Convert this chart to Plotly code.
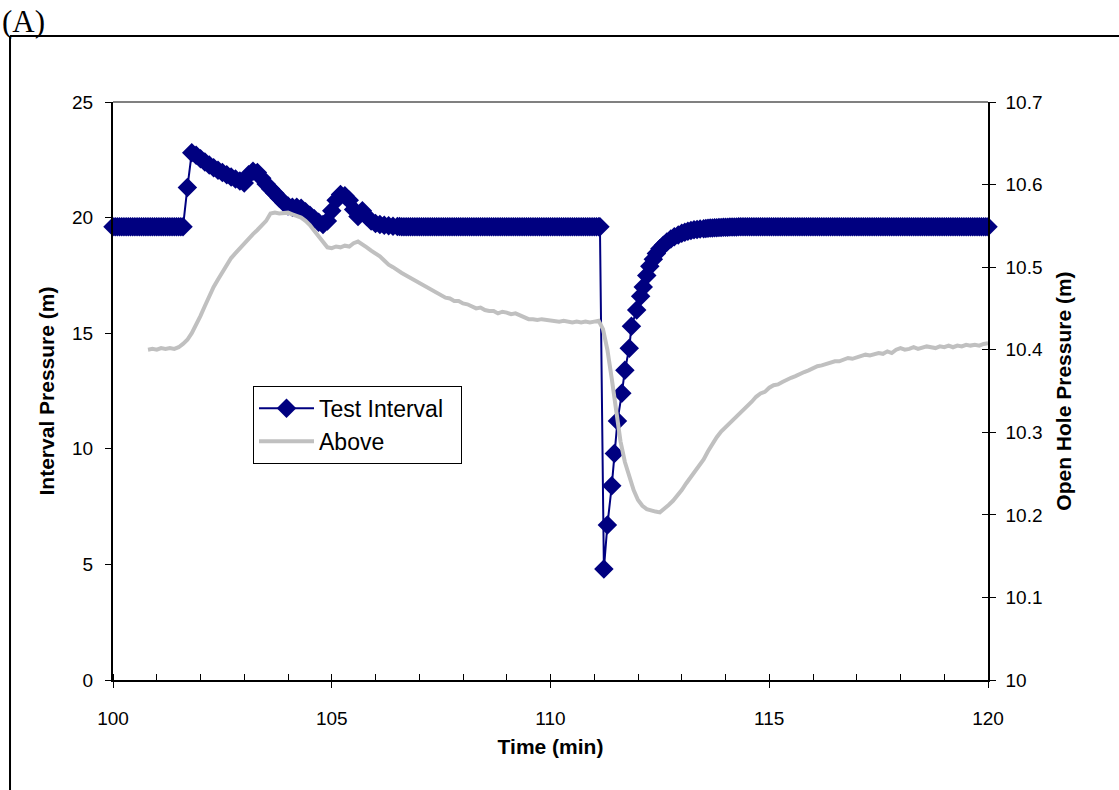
import plotly.graph_objects as go

# ---------------- data ----------------
# Test Interval sample times (min) and pressures (m)
interval_time = [
    100.00, 100.05, 100.10, 100.15, 100.20, 100.25, 100.30, 100.35, 100.40, 100.45,
    100.50, 100.55, 100.60, 100.65, 100.70, 100.75, 100.80, 100.85, 100.90, 100.95,
    101.00, 101.05, 101.10, 101.15, 101.20, 101.25, 101.30, 101.35, 101.40, 101.45,
    101.50, 101.55, 101.60, 101.7, 101.8, 101.9,
    102.0, 102.1, 102.2, 102.3, 102.4, 102.5, 102.6, 102.7, 102.8, 102.9,
    103.0, 103.1, 103.2, 103.3, 103.4, 103.5, 103.6, 103.7, 103.8, 103.9,
    104.0, 104.1, 104.2, 104.3, 104.4, 104.5, 104.6, 104.7, 104.8, 104.9,
    105.0, 105.1, 105.2, 105.3, 105.4, 105.5, 105.6, 105.7, 105.8, 105.9,
    106.0, 106.1, 106.2, 106.3, 106.4, 106.5,
    106.55, 106.60, 106.65, 106.70, 106.75, 106.80, 106.85, 106.90, 106.95,
    107.00, 107.05, 107.10, 107.15, 107.20, 107.25, 107.30, 107.35, 107.40, 107.45,
    107.50, 107.55, 107.60, 107.65, 107.70, 107.75, 107.80, 107.85, 107.90, 107.95,
    108.00, 108.05, 108.10, 108.15, 108.20, 108.25, 108.30, 108.35, 108.40, 108.45,
    108.50, 108.55, 108.60, 108.65, 108.70, 108.75, 108.80, 108.85, 108.90, 108.95,
    109.00, 109.05, 109.10, 109.15, 109.20, 109.25, 109.30, 109.35, 109.40, 109.45,
    109.50, 109.55, 109.60, 109.65, 109.70, 109.75, 109.80, 109.85, 109.90, 109.95,
    110.00, 110.05, 110.10, 110.15, 110.20, 110.25, 110.30, 110.35, 110.40, 110.45,
    110.50, 110.55, 110.60, 110.65, 110.70, 110.75, 110.80, 110.85, 110.90, 110.95,
    111.00, 111.05, 111.10, 111.13,
    111.22, 111.30, 111.40, 111.46, 111.53, 111.63, 111.70, 111.80,
    111.85, 111.97, 112.06, 112.12, 112.20, 112.27, 112.35, 112.42, 112.50, 112.58,
    112.66, 112.75, 112.83, 112.92, 113.00, 113.07, 113.14, 113.21, 113.28, 113.35,
    113.42, 113.50, 113.55, 113.60, 113.65, 113.70, 113.75, 113.80, 113.85, 113.90,
    113.95, 114.00, 114.05, 114.10, 114.15, 114.20, 114.25, 114.30, 114.35, 114.40,
    114.45, 114.50, 114.55, 114.60, 114.65, 114.70, 114.75, 114.80, 114.85, 114.90,
    114.95, 115.00, 115.05, 115.10, 115.15, 115.20, 115.25, 115.30, 115.35, 115.40,
    115.45, 115.50, 115.55, 115.60, 115.65, 115.70, 115.75, 115.80, 115.85, 115.90,
    115.95, 116.00, 116.05, 116.10, 116.15, 116.20, 116.25, 116.30, 116.35, 116.40,
    116.45, 116.50, 116.55, 116.60, 116.65, 116.70, 116.75, 116.80, 116.85, 116.90,
    116.95, 117.00, 117.05, 117.10, 117.15, 117.20, 117.25, 117.30, 117.35, 117.40,
    117.45, 117.50, 117.55, 117.60, 117.65, 117.70, 117.75, 117.80, 117.85, 117.90,
    117.95, 118.00, 118.05, 118.10, 118.15, 118.20, 118.25, 118.30, 118.35, 118.40,
    118.45, 118.50, 118.55, 118.60, 118.65, 118.70, 118.75, 118.80, 118.85, 118.90,
    118.95, 119.00, 119.05, 119.10, 119.15, 119.20, 119.25, 119.30, 119.35, 119.40,
    119.45, 119.50, 119.55, 119.60, 119.65, 119.70, 119.75, 119.80, 119.85, 119.90,
    119.95, 120.00,
]
interval_pressure = [
    19.6, 19.6, 19.6, 19.6, 19.6, 19.6, 19.6, 19.6, 19.6, 19.6,
    19.6, 19.6, 19.6, 19.6, 19.6, 19.6, 19.6, 19.6, 19.6, 19.6,
    19.6, 19.6, 19.6, 19.6, 19.6, 19.6, 19.6, 19.6, 19.6, 19.6,
    19.6, 19.6, 19.6, 21.3, 22.8, 22.7,
    22.55, 22.4, 22.28, 22.16, 22.05, 21.95, 21.85, 21.76, 21.67, 21.58,
    21.5, 21.85, 22.0, 21.95, 21.7, 21.45, 21.25, 21.05, 20.85, 20.65,
    20.5, 20.45, 20.45, 20.4, 20.25, 20.1, 19.95, 19.8, 19.7, 19.85,
    20.3, 20.75, 21.0, 20.95, 20.75, 20.35, 20.05, 20.3, 20.05, 19.85,
    19.75, 19.7, 19.67, 19.65, 19.63, 19.62,
    19.61, 19.6, 19.6, 19.6, 19.6, 19.6, 19.6, 19.6, 19.6,
    19.6, 19.6, 19.6, 19.6, 19.6, 19.6, 19.6, 19.6, 19.6, 19.6,
    19.6, 19.6, 19.6, 19.6, 19.6, 19.6, 19.6, 19.6, 19.6, 19.6,
    19.6, 19.6, 19.6, 19.6, 19.6, 19.6, 19.6, 19.6, 19.6, 19.6,
    19.6, 19.6, 19.6, 19.6, 19.6, 19.6, 19.6, 19.6, 19.6, 19.6,
    19.6, 19.6, 19.6, 19.6, 19.6, 19.6, 19.6, 19.6, 19.6, 19.6,
    19.6, 19.6, 19.6, 19.6, 19.6, 19.6, 19.6, 19.6, 19.6, 19.6,
    19.6, 19.6, 19.6, 19.6, 19.6, 19.6, 19.6, 19.6, 19.6, 19.6,
    19.6, 19.6, 19.6, 19.6, 19.6, 19.6, 19.6, 19.6, 19.6, 19.6,
    19.6, 19.6, 19.6, 19.6,
    4.8, 6.7, 8.4, 9.8, 11.2, 12.4, 13.4, 14.35,
    15.3, 16.0, 16.6, 17.0, 17.5, 17.9, 18.2, 18.45, 18.65, 18.8,
    18.95, 19.07, 19.17, 19.25, 19.32, 19.37, 19.41, 19.44, 19.47, 19.49,
    19.51, 19.52, 19.53, 19.54, 19.55, 19.55, 19.56, 19.56, 19.57, 19.57,
    19.58, 19.58, 19.58, 19.59, 19.59, 19.59, 19.59, 19.6, 19.6, 19.6,
    19.6, 19.6, 19.6, 19.6, 19.6, 19.6, 19.6, 19.6, 19.6, 19.6,
    19.6, 19.6, 19.6, 19.6, 19.6, 19.6, 19.6, 19.6, 19.6, 19.6,
    19.6, 19.6, 19.6, 19.6, 19.6, 19.6, 19.6, 19.6, 19.6, 19.6,
    19.6, 19.6, 19.6, 19.6, 19.6, 19.6, 19.6, 19.6, 19.6, 19.6,
    19.6, 19.6, 19.6, 19.6, 19.6, 19.6, 19.6, 19.6, 19.6, 19.6,
    19.6, 19.6, 19.6, 19.6, 19.6, 19.6, 19.6, 19.6, 19.6, 19.6,
    19.6, 19.6, 19.6, 19.6, 19.6, 19.6, 19.6, 19.6, 19.6, 19.6,
    19.6, 19.6, 19.6, 19.6, 19.6, 19.6, 19.6, 19.6, 19.6, 19.6,
    19.6, 19.6, 19.6, 19.6, 19.6, 19.6, 19.6, 19.6, 19.6, 19.6,
    19.6, 19.6, 19.6, 19.6, 19.6, 19.6, 19.6, 19.6, 19.6, 19.6,
    19.6, 19.6, 19.6, 19.6, 19.6, 19.6, 19.6, 19.6, 19.6, 19.6,
    19.6, 19.6,
]

# "Above" (open hole) sample times (min) and pressures (m)
above_time = [
    100.8, 100.9, 101.0, 101.1, 101.2, 101.3, 101.4, 101.5, 101.6, 101.7,
    101.8, 101.9, 102.0, 102.1, 102.2, 102.3, 102.4, 102.5, 102.6, 102.7,
    102.8, 102.9, 103.0, 103.1, 103.2, 103.3, 103.4, 103.5, 103.6, 103.7,
    103.8, 103.9, 104.0, 104.1, 104.2, 104.3, 104.4, 104.5, 104.6, 104.7,
    104.8, 104.9, 105.0, 105.1, 105.2, 105.3, 105.4, 105.5, 105.6, 105.7,
    105.8, 105.9, 106.0, 106.1, 106.2, 106.3, 106.4, 106.5, 106.6, 106.7,
    106.8, 106.9, 107.0, 107.1, 107.2, 107.3, 107.4, 107.5, 107.6, 107.7,
    107.8, 107.9, 108.0, 108.1, 108.2, 108.3, 108.4, 108.5, 108.6, 108.7,
    108.8, 108.9, 109.0, 109.1, 109.2, 109.3, 109.4, 109.5, 109.6, 109.7,
    109.8, 109.9, 110.0, 110.1, 110.2, 110.3, 110.4, 110.5, 110.6, 110.7,
    110.8, 110.9, 111.0, 111.1, 111.2, 111.3, 111.4, 111.5, 111.6, 111.7,
    111.8, 111.9, 112.0, 112.1, 112.2, 112.3, 112.4, 112.5, 112.6, 112.7,
    112.8, 112.9, 113.0, 113.1, 113.2, 113.3, 113.4, 113.5, 113.6, 113.7,
    113.8, 113.9, 114.0, 114.1, 114.2, 114.3, 114.4, 114.5, 114.6, 114.7,
    114.8, 114.9, 115.0, 115.1, 115.2, 115.3, 115.4, 115.5, 115.6, 115.7,
    115.8, 115.9, 116.0, 116.1, 116.2, 116.3, 116.4, 116.5, 116.6, 116.7,
    116.8, 116.9, 117.0, 117.1, 117.2, 117.3, 117.4, 117.5, 117.6, 117.7,
    117.8, 117.9, 118.0, 118.1, 118.2, 118.3, 118.4, 118.5, 118.6, 118.7,
    118.8, 118.9, 119.0, 119.1, 119.2, 119.3, 119.4, 119.5, 119.6, 119.7,
    119.8, 119.9, 120.0,
]
above_pressure = [
    10.400, 10.401, 10.400, 10.402, 10.401, 10.402, 10.401, 10.403, 10.407, 10.412,
    10.420, 10.430, 10.441, 10.453, 10.465, 10.476, 10.485, 10.494, 10.503, 10.511,
    10.517, 10.523, 10.529, 10.535, 10.540, 10.545, 10.550, 10.556, 10.565, 10.566,
    10.565, 10.566, 10.566, 10.564, 10.562, 10.560, 10.556, 10.551, 10.544, 10.537,
    10.530, 10.524, 10.523, 10.525, 10.524, 10.526, 10.525, 10.529, 10.531, 10.528,
    10.524, 10.520, 10.517, 10.513, 10.508, 10.503, 10.500, 10.496, 10.493, 10.490,
    10.487, 10.483, 10.480, 10.478, 10.474, 10.472, 10.468, 10.466, 10.463, 10.462,
    10.459, 10.459, 10.456, 10.455, 10.452, 10.450, 10.451, 10.448, 10.447, 10.447,
    10.444, 10.446, 10.445, 10.443, 10.444, 10.442, 10.439, 10.437, 10.437, 10.436,
    10.437, 10.436, 10.435, 10.435, 10.434, 10.435, 10.434, 10.433, 10.434, 10.433,
    10.434, 10.433, 10.434, 10.435, 10.425, 10.400, 10.365, 10.323, 10.289, 10.264,
    10.245, 10.230, 10.218, 10.211, 10.207, 10.205, 10.204, 10.203, 10.207, 10.212,
    10.217, 10.223, 10.230, 10.238, 10.245, 10.252, 10.260, 10.267, 10.277, 10.286,
    10.294, 10.301, 10.306, 10.311, 10.316, 10.321, 10.327, 10.332, 10.337, 10.343,
    10.347, 10.349, 10.354, 10.357, 10.358, 10.361, 10.364, 10.366, 10.368, 10.371,
    10.373, 10.375, 10.378, 10.380, 10.381, 10.383, 10.385, 10.386, 10.386, 10.388,
    10.390, 10.389, 10.391, 10.392, 10.394, 10.393, 10.395, 10.396, 10.395, 10.398,
    10.396, 10.400, 10.402, 10.400, 10.401, 10.403, 10.401, 10.402, 10.404, 10.403,
    10.402, 10.404, 10.403, 10.405, 10.403, 10.405, 10.404, 10.406, 10.405, 10.406,
    10.405, 10.407, 10.408,
]

x_ticks = [100, 105, 110, 115, 120]
left_ticks = [0, 5, 10, 15, 20, 25]
right_ticks = [10, 10.1, 10.2, 10.3, 10.4, 10.5, 10.6, 10.7]

FONT = "Liberation Sans, Arial, sans-serif"
NAVY = "#000080"
GRAY = "#C0C0C0"

# ---------------- figure ----------------
fig = go.Figure()
fig.add_trace(go.Scatter(
    x=interval_time, y=interval_pressure, name="Test Interval&nbsp;&nbsp;",
    mode="lines+markers",
    line=dict(color=NAVY, width=2),
    marker=dict(symbol="diamond", size=15, color=NAVY, line=dict(width=0)),
    cliponaxis=False, yaxis="y",
))
fig.add_trace(go.Scatter(
    x=above_time, y=above_pressure, name="Above",
    mode="lines",
    line=dict(color=GRAY, width=4),
    yaxis="y2",
))
# empty helper trace so the companion tick axes are drawn
fig.add_trace(go.Scatter(
    x=[None], y=[None], xaxis="x2", yaxis="y3",
    mode="lines", showlegend=False, hoverinfo="skip",
))

axis_font = dict(family=FONT, size=19, color="black")
title_font = dict(family=FONT, size=21, color="black", weight="bold")

fig.update_layout(
    width=1119, height=790,
    margin=dict(l=113, r=131, t=102, b=110, autoexpand=False),
    paper_bgcolor="white", plot_bgcolor="white",
    font=dict(family=FONT, color="black"),
    showlegend=True,
    legend=dict(
        x=0.16, y=0.509, xanchor="left", yanchor="top",
        bgcolor="white", bordercolor="black", borderwidth=1,
        font=dict(family=FONT, size=23, color="black"),
        itemwidth=55, tracegroupgap=0,
    ),
    xaxis=dict(
        range=[100, 120], tickvals=x_ticks, ticktext=[str(v) for v in x_ticks],
        showgrid=False, zeroline=False,
        showline=True, linecolor="black", linewidth=2,
        ticks="outside", ticklen=6, tickwidth=1, tickcolor="black",
        minor=dict(dtick=1, ticks="inside", ticklen=6, tickwidth=1, tickcolor="black", showgrid=False),
        tickfont=axis_font, ticklabelstandoff=14,
        title=dict(text="Time (min)", font=title_font, standoff=12),
    ),
    # companion axis: inner half of the crossing major ticks on the time axis
    xaxis2=dict(
        range=[100, 120], tickvals=x_ticks, overlaying="x", side="bottom", anchor="y3",
        showticklabels=False, showgrid=False, zeroline=False, showline=False,
        ticks="inside", ticklen=6, tickwidth=1, tickcolor="black",
    ),
    yaxis=dict(
        range=[0, 25], tickvals=left_ticks, ticktext=[str(v) for v in left_ticks],
        showgrid=False, zeroline=False,
        showline=True, linecolor="black", linewidth=2,
        ticks="outside", ticklen=6, tickwidth=1, tickcolor="black",
        tickfont=axis_font, ticklabelstandoff=8,
        title=dict(text="Interval Pressure (m)", font=title_font, standoff=12),
    ),
    yaxis2=dict(
        range=[10, 10.7], tickvals=right_ticks, ticktext=[f"{v:g}" for v in right_ticks],
        overlaying="y", side="right",
        showgrid=False, zeroline=False,
        showline=True, linecolor="black", linewidth=1.5,
        ticks="outside", ticklen=6, tickwidth=1, tickcolor="black",
        tickfont=axis_font, ticklabelstandoff=6,
        title=dict(text="Open Hole Pressure (m)", font=title_font, standoff=14),
    ),
    # companion axis: inner half of the crossing ticks on the right axis
    yaxis3=dict(
        range=[10, 10.7], tickvals=right_ticks, overlaying="y", side="right", anchor="x2",
        showticklabels=False, showgrid=False, zeroline=False, showline=False,
        ticks="inside", ticklen=6, tickwidth=1, tickcolor="black",
    ),
    shapes=[
        # gray top border of plot area
        dict(type="line", xref="paper", yref="paper", x0=0, x1=1, y0=1, y1=1,
             line=dict(color="#808080", width=2)),
        # outer frame (top and left edges)
        dict(type="line", xref="paper", yref="paper", x0=-0.1177, x1=1.2, y0=1.1142, y1=1.1142,
             line=dict(color="black", width=2)),
        dict(type="line", xref="paper", yref="paper", x0=-0.1177, x1=-0.1177, y0=1.1142, y1=-0.3,
             line=dict(color="black", width=2)),
    ],
    annotations=[
        dict(text="(A)", xref="paper", yref="paper", x=-0.129, y=1.139,
             xanchor="left", yanchor="middle", showarrow=False,
             font=dict(family="Liberation Serif, Times New Roman, serif", size=31, color="black")),
    ],
)

fig.write_html("out.html")
